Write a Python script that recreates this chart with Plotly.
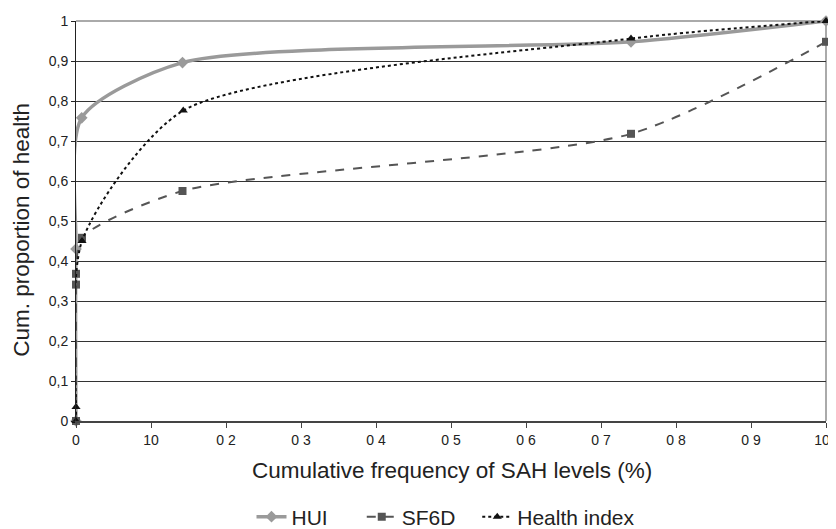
import plotly.graph_objects as go

# Data
hui_x = [0, 0, 0.76, 14.2, 74, 100]
hui_y = [0, 0.43, 0.758, 0.896, 0.948, 1.0]
sf6d_x = [0, 0, 0, 0.8, 14.2, 74, 100]
sf6d_y = [0, 0.341, 0.368, 0.458, 0.575, 0.718, 0.948]
hi_x = [0, 0, 0.8, 14.3, 74, 100]
hi_y = [0, 0.035, 0.45, 0.776, 0.956, 1.0]

x_tickvals = [0, 10, 20, 30, 40, 50, 60, 70, 80, 90, 100]
x_ticktext = ["0", "10", "0 2", "0 3", "0 4", "0 5", "0 6", "0 7", "0 8", "0 9", "100"]
y_tickvals = [0, 0.1, 0.2, 0.3, 0.4, 0.5, 0.6, 0.7, 0.8, 0.9, 1.0]
y_ticktext = ["0", "0,1", "0,2", "0,3", "0,4", "0,5", "0,6", "0,7", "0,8", "0,9", "1"]

x_title = "Cumulative frequency of SAH levels (%)"
y_title = "Cum. proportion of health"

FONT = "Liberation Sans, Arial, sans-serif"
SMOOTH = 0.7
TXT = "#222222"

fig = go.Figure()
fig.add_trace(go.Scatter(
    x=hui_x, y=hui_y, name="HUI", mode="lines+markers", cliponaxis=False, legend="legend",
    line=dict(color="#9a9a9a", width=3.5, shape="spline", smoothing=SMOOTH),
    marker=dict(symbol="diamond", size=9, color="#9a9a9a"),
))
fig.add_trace(go.Scatter(
    x=sf6d_x, y=sf6d_y, name="SF6D", mode="lines+markers", cliponaxis=False, legend="legend2",
    line=dict(color="#555555", width=2, dash="dash", shape="spline", smoothing=SMOOTH),
    marker=dict(symbol="square", size=8, color="#555555"),
))
fig.add_trace(go.Scatter(
    x=hi_x, y=hi_y, name="Health index", mode="lines+markers", cliponaxis=False, legend="legend3",
    line=dict(color="#111111", width=2, dash="dot", shape="spline", smoothing=SMOOTH),
    marker=dict(symbol="triangle-up", size=8, color="#111111"),
))

leg = dict(orientation="h", xanchor="left", y=-0.24, yanchor="middle",
           font=dict(size=21, color=TXT), bgcolor="rgba(0,0,0,0)")

# page body has an 8px margin, so the figure is 8px smaller than the window
fig.update_layout(
    width=828, height=521,
    margin=dict(l=68, r=10, t=13, b=108, autoexpand=False),
    paper_bgcolor="white", plot_bgcolor="white",
    font=dict(family=FONT, size=14, color=TXT),
    showlegend=True,
    legend=dict(leg, x=0.234),
    legend2=dict(leg, x=0.381),
    legend3=dict(leg, x=0.535),
    xaxis=dict(
        range=[0, 100], tickmode="array", tickvals=x_tickvals, ticktext=x_ticktext,
        automargin=False, ticklabeloverflow="allow",
        showgrid=False, zeroline=False, showline=True, linecolor="#444444", linewidth=2,
        ticks="outside", ticklen=5, tickcolor="#444444", tickfont=dict(size=14),
    ),
    yaxis=dict(
        range=[0, 1], tickmode="array", tickvals=y_tickvals, ticktext=y_ticktext,
        automargin=False, ticklabeloverflow="allow",
        showgrid=True, gridcolor="#333333", gridwidth=1, zeroline=False,
        showline=True, linecolor="#222222", linewidth=1,
        ticks="outside", ticklen=4, tickcolor="#222222", tickfont=dict(size=14),
    ),
    annotations=[
        dict(text=x_title, xref="paper", yref="paper", x=0.501, y=-0.124,
             xanchor="center", yanchor="middle", showarrow=False,
             font=dict(size=22.5, color=TXT)),
        dict(text=y_title, xref="paper", yref="paper", x=-0.072, y=0.478,
             xanchor="center", yanchor="middle", showarrow=False, textangle=-90,
             font=dict(size=22.5, color=TXT)),
    ],
    shapes=[
        dict(type="line", xref="paper", yref="paper", x0=0, x1=1, y0=1, y1=1,
             line=dict(color="#aaaaaa", width=2), layer="between"),
        dict(type="line", xref="paper", yref="paper", x0=1, x1=1, y0=0, y1=1,
             line=dict(color="#aaaaaa", width=2), layer="between"),
    ],
)

fig.write_html("out.html")
